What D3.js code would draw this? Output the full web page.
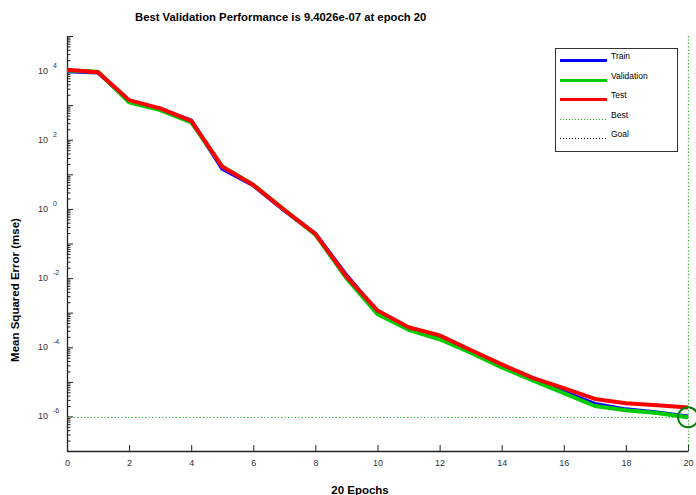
<!DOCTYPE html>
<html>
<head>
<meta charset="utf-8">
<script src="https://cdn.jsdelivr.net/npm/d3@7"></script>
<style>
  body { margin: 0; background: #fff; }
  svg { display: block; font-family: "Liberation Sans", Arial, sans-serif; }
</style>
</head>
<body>
<svg id="chart" width="696" height="495"></svg>
<script>
// ---- data ----
const epochs = [0,1,2,3,4,5,6,7,8,9,10,11,12,13,14,15,16,17,18,19,20];
const trainPerf = [9.5e3, 8.8e3, 1.35e3, 7.8e2, 3.6e2, 1.45e1, 4.8, 0.9, 0.19, 0.012, 1.05e-3, 3.5e-4, 1.8e-4, 7.5e-5, 2.8e-5, 1.15e-5, 5.1e-6, 2.3e-6, 1.6e-6, 1.3e-6, 1.0e-6];
const valPerf   = [1.0e4, 9.3e3, 1.2e3, 7.2e2, 3.2e2, 1.7e1, 5.0, 0.95, 0.18, 0.010, 9.0e-4, 3.2e-4, 1.7e-4, 7.0e-5, 2.6e-5, 1.1e-5, 4.7e-6, 2.0e-6, 1.5e-6, 1.25e-6, 9.4026e-7];
const testPerf  = [1.05e4, 9.0e3, 1.4e3, 8.1e2, 3.5e2, 1.66e1, 4.9, 0.93, 0.19, 0.011, 1.15e-3, 3.8e-4, 2.2e-4, 8.3e-5, 3.2e-5, 1.3e-5, 6.6e-6, 3.2e-6, 2.4e-6, 2.1e-6, 1.8e-6];
const bestEpoch = 20;
const bestPerf = 9.4026e-7;
const xTickValues = [0,2,4,6,8,10,12,14,16,18,20];
const yLabelExponents = [4,2,0,-2,-4,-6];
const legendLabels = ["Train","Validation","Test","Best","Goal"];
const titleText = "Best Validation Performance is 9.4026e-07 at epoch 20";
const xLabelText = "20 Epochs";
const yLabelText = "Mean Squared Error  (mse)";

// ---- layout ----
const svg = d3.select("#chart");
const L = 67, R = 688, T = 36, B = 451;
const x = d3.scaleLinear().domain([0, 20]).range([L, R]);
const y = d3.scaleLog().domain([1e-7, 1e5]).range([B, T]);

// title / labels
svg.append("text").attr("x", 135).attr("y", 21).attr("text-anchor","start")
  .attr("font-size", 11.3).attr("font-weight","bold").attr("fill","#000").text(titleText);
svg.append("text").attr("x", 360).attr("y", 494).attr("text-anchor","middle")
  .attr("font-size", 11.5).attr("font-weight","bold").attr("fill","#000").text(xLabelText);
svg.append("text").attr("transform", `translate(18.5,290) rotate(-90)`).attr("text-anchor","middle")
  .attr("font-size", 11.5).attr("font-weight","bold").attr("fill","#000").text(yLabelText);

// x axis (ticks inward)
const xAxis = d3.axisBottom(x).tickValues(xTickValues).tickSizeInner(-6).tickSizeOuter(0).tickPadding(8.5).tickFormat(d3.format("d"));
const gx = svg.append("g").attr("transform", `translate(0,${B})`).call(xAxis);
gx.select(".domain").attr("stroke","#222").attr("stroke-width",1.3);
gx.selectAll(".tick line").attr("stroke","#222");
gx.selectAll(".tick text").attr("font-size", 9).attr("fill","#333").attr("font-family","Liberation Sans, Arial, sans-serif");

// y axis: minor ticks
const minorVals = [];
for (let e = -7; e < 5; e++) for (let m = 2; m <= 9; m++) minorVals.push(m * Math.pow(10, e));
const majorVals = d3.range(-7, 6).map(e => Math.pow(10, e));
const gy = svg.append("g").attr("transform", `translate(${L},0)`);
gy.call(d3.axisLeft(y).tickValues(minorVals).tickSizeInner(-3.5).tickSizeOuter(0).tickFormat(""));
gy.call(g => g.select(".domain").attr("stroke","#222").attr("stroke-width",1.3));
gy.selectAll(".tick line").attr("stroke","#222");
const gy2 = svg.append("g").attr("transform", `translate(${L},0)`);
gy2.call(d3.axisLeft(y).tickValues(majorVals).tickSizeInner(-6).tickSizeOuter(0).tickFormat(""));
gy2.select(".domain").remove();
gy2.selectAll(".tick line").attr("stroke","#222");

// y labels 10^e
const ylab = svg.append("g");
yLabelExponents.forEach(e => {
  const yy = y(Math.pow(10, e));
  ylab.append("text").attr("x", 48).attr("y", yy + 3).attr("text-anchor","end")
    .attr("font-size", 9).attr("fill","#333").text("10");
  ylab.append("text").attr("x", 53).attr("y", yy - 3).attr("text-anchor","start")
    .attr("font-size", 7).attr("fill","#333").text(String(e));
});

// best lines
const bestColor = "#20b020";
const by = Math.round(y(bestPerf)) + 0.5;
const bx = Math.round(x(bestEpoch)) + 0.5;
svg.append("line").attr("x1", x(0)).attr("x2", x(20)).attr("y1", by).attr("y2", by)
  .attr("stroke", bestColor).attr("stroke-width", 1.2).attr("stroke-dasharray","1.2,2.2");
svg.append("line").attr("x1", bx).attr("x2", bx).attr("y1", T).attr("y2", B)
  .attr("stroke", bestColor).attr("stroke-width", 1.2).attr("stroke-dasharray","1.2,2.2");

// series
const line = d3.line().x((d,i) => x(epochs[i])).y(d => y(d));
const series = [
  {vals: trainPerf, color: "#0000ff"},
  {vals: valPerf, color: "#00cc00"},
  {vals: testPerf, color: "#ff0000"}
];
series.forEach(s => {
  svg.append("path").datum(s.vals).attr("d", line).attr("fill","none")
    .attr("stroke", s.color).attr("stroke-width", 4).attr("stroke-linejoin","round");
});

// best circle
svg.append("circle").attr("cx", x(bestEpoch)).attr("cy", y(bestPerf)).attr("r", 10)
  .attr("fill","none").attr("stroke","#008000").attr("stroke-width", 2);

// legend
const lg = svg.append("g");
lg.append("rect").attr("x", 555.5).attr("y", 48.5).attr("width", 122).attr("height", 103)
  .attr("fill","#fff").attr("stroke","#333").attr("stroke-width",1);
const legendStyles = [
  {color:"#0000ff", w:3, dash:null},
  {color:"#00cc00", w:3, dash:null},
  {color:"#ff0000", w:3, dash:null},
  {color:bestColor, w:1, dash:"1,2"},
  {color:"#000", w:1, dash:"1,2"}
];
legendLabels.forEach((lab, i) => {
  const ly = 60 + i * 19.6;
  const st = legendStyles[i];
  const ln = lg.append("line").attr("x1", 560).attr("x2", 607).attr("y1", Math.round(ly) + 0.5).attr("y2", Math.round(ly) + 0.5)
    .attr("stroke", st.color).attr("stroke-width", st.w);
  if (st.dash) ln.attr("stroke-dasharray", st.dash);
  lg.append("text").attr("x", 611).attr("y", ly - 1).attr("font-size", 8.5).attr("fill","#000").text(lab);
});
</script>
</body>
</html>
